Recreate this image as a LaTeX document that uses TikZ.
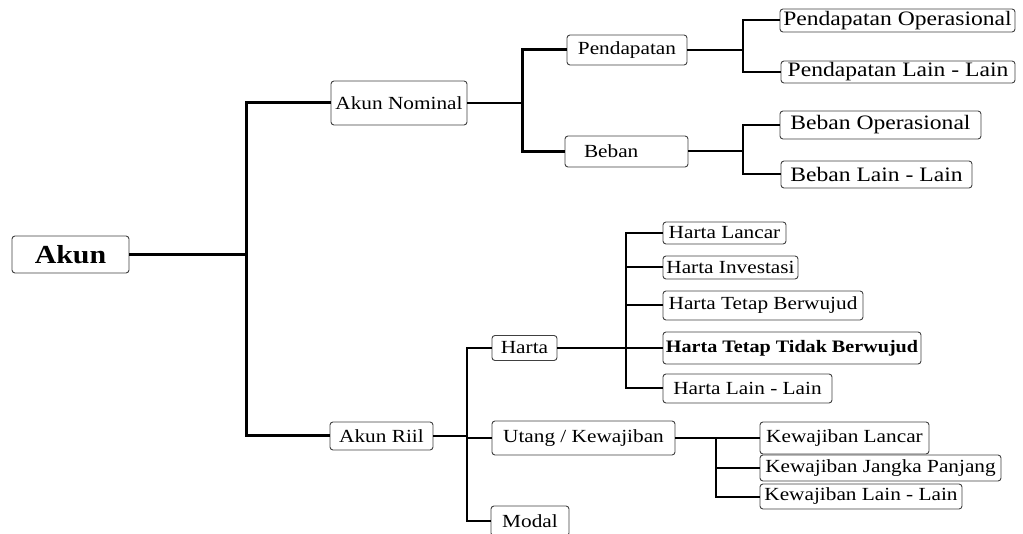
\documentclass[tikz,border=0pt]{standalone}
\usepackage{fontspec}
\setmainfont{Liberation Serif}[FakeStretch=1.15]

\begin{document}
\begin{tikzpicture}[x=1pt, y=-1pt,
		kotak/.style={draw=black!75, line width=0.9pt, rounded corners=3pt, inner sep=0pt, fill=white},
		kecil/.style={font=\fontsize{18.5}{20}\selectfont},
		besar/.style={font=\fontsize{20.5}{22}\selectfont},
		garis/.style={line width=2pt},
		tebal/.style={line width=3pt}]
		\useasboundingbox (0,0) rectangle (1023,534);
		% kotak akun
		\node[kotak, font=\fontsize{26}{28}\selectfont\bfseries, minimum width=117pt, minimum height=37pt] (akun) at (70.5,254.5) {Akun};
		\node[kotak, kecil, minimum width=136pt, minimum height=44pt] (nominal) at (399,103) {Akun Nominal};
		\node[kotak, kecil, minimum width=103pt, minimum height=28pt] (riil) at (381.5,436) {Akun Riil};
		\node[kotak, kecil, minimum width=120pt, minimum height=30pt] (pend) at (627,50) {Pendapatan};
		\node[kotak, kecil, text width=85pt, inner xsep=19pt, minimum height=31pt, align=left] (beban) at (626.5,151.5) {Beban};
		\node[kotak, besar, minimum width=235pt, minimum height=23pt] (pOps) at (897.5,20.5) {Pendapatan Operasional};
		\node[kotak, besar, minimum width=234pt, minimum height=22pt] (pLain) at (898,72) {Pendapatan Lain - Lain};
		\node[kotak, besar, minimum width=201pt, minimum height=28pt] (bOps) at (880.5,125) {Beban Operasional};
		\node[kotak, besar, minimum width=191pt, minimum height=27pt] (bLain) at (876.5,174.5) {Beban Lain - Lain};
		\node[kotak, kecil, minimum width=65pt, minimum height=25pt] (harta) at (524.5,348) {Harta};
		\node[kotak, kecil, minimum width=183pt, minimum height=34pt] (utang) at (583.5,438) {Utang / Kewajiban};
		\node[kotak, kecil, minimum width=78pt, minimum height=30pt] (modal) at (530,521) {Modal};
		\node[kotak, kecil, minimum width=123pt, minimum height=22pt] (hLancar) at (724.5,233) {Harta Lancar};
		\node[kotak, kecil, minimum width=135pt, minimum height=23pt] (hInv) at (730.5,267.5) {Harta Investasi};
		\node[kotak, kecil, minimum width=200pt, minimum height=29pt] (hTB) at (763,305.5) {Harta Tetap Berwujud};
		\node[kotak, font=\fontsize{17.5}{19}\selectfont\bfseries, minimum width=258pt, minimum height=32pt] (hTTB) at (792,348) {Harta Tetap Tidak Berwujud};
		\node[kotak, kecil, minimum width=169pt, minimum height=29pt] (hLain) at (747.5,388.5) {Harta Lain - Lain};
		\node[kotak, kecil, minimum width=169pt, minimum height=32pt] (kLancar) at (844.5,438) {Kewajiban Lancar};
		\node[kotak, kecil, minimum width=241pt, minimum height=26pt] (kJP) at (880.5,468) {Kewajiban Jangka Panjang};
		\node[kotak, kecil, minimum width=202pt, minimum height=25pt] (kLain) at (861,496.5) {Kewajiban Lain - Lain};
		% titik cabang
		\coordinate (jAkun) at (246,254.5);
		\coordinate (jNominal) at (522,103);
		\coordinate (jPend) at (743,50);
		\coordinate (jBeban) at (743,151.5);
		\coordinate (jRiil) at (467,436);
		\coordinate (jHarta) at (626,348);
		\coordinate (jUtang) at (716,438);
		% garis
		\draw[tebal] (akun.east) -- (jAkun);
		\draw[tebal] (jAkun) |- (nominal.west);
		\draw[tebal] (jAkun) |- (riil.west);
		\draw[garis] (nominal.east) -- (jNominal);
		\draw[tebal] (jNominal) |- (pend.west);
		\draw[tebal] (jNominal) |- (beban.west);
		\draw[garis] (pend.east) -- (jPend);
		\draw[garis] (beban.east) -- (jBeban);
		\foreach \c in {pOps,pLain}
			\draw[garis] (jPend) |- (\c.west);
		\foreach \c in {bOps,bLain}
			\draw[garis] (jBeban) |- (\c.west);
		\draw[garis] (riil.east) -- (jRiil);
		\foreach \c in {harta,utang,modal}
			\draw[garis] (jRiil) |- (\c.west);
		\draw[garis] (harta.east) -- (jHarta);
		\foreach \c in {hLancar,hInv,hTB,hTTB,hLain}
			\draw[garis] (jHarta) |- (\c.west);
		\draw[garis] (utang.east) -- (jUtang);
		\foreach \c in {kLancar,kJP,kLain}
			\draw[garis] (jUtang) |- (\c.west);
	\end{tikzpicture}
\end{document}
